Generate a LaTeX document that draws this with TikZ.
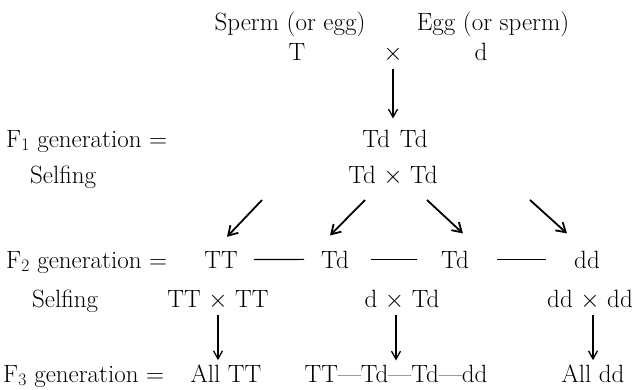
\documentclass[tikz,border=0pt]{standalone}
\usepackage{fontspec}
\usetikzlibrary{arrows.meta}
\begin{document}
\begin{tikzpicture}[x=1pt,y=-1pt,
  lbl/.style={inner sep=0pt, anchor=base, font=\fontsize{25}{29}\selectfont},
  lft/.style={lbl, anchor=base west},
  arr/.style={line width=1.3pt, -{Straight Barb[length=8pt,width=9pt]}},
  darr/.style={line width=1.8pt, -{Straight Barb[length=9pt,width=11pt]}},
  link/.style={line width=1.1pt}]
\useasboundingbox (0,0) rectangle (635,389);
% top rows
\node[lbl] (sperm) at (290,30) {Sperm (or egg)};
\node[lbl] (egg) at (493,30) {Egg (or sperm)};
\node[lbl] (T) at (297,60) {T};
\node[lbl] (cross) at (393,60) {$\times$};
\node[lbl] (d) at (481,60) {d};
% F1
\node[lft] (f1) at (6,147) {F\textsubscript{1} generation =};
\node[lbl] (tdtd) at (395,147) {Td\hspace{0.4em}Td};
\node[lft] (self1) at (30,183) {Selfing};
\node[lbl] (tdxtd) at (393,183) {Td $\times$ Td};
% F2
\node[lft] (f2) at (6,268) {F\textsubscript{2} generation =};
\node[lbl] (tt) at (221,268) {TT};
\node[lbl] (td1) at (335,268) {Td};
\node[lbl] (td2) at (455,268) {Td};
\node[lbl] (dd) at (587,268) {dd};
\node[lft] (self2) at (32,307) {Selfing};
\node[lbl] (ttxtt) at (218,307) {TT $\times$ TT};
\node[lbl] (dxtd) at (402,307) {d $\times$ Td};
\node[lbl] (ddxdd) at (590,307) {dd $\times$ dd};
% F3
\node[lft] (f3) at (3,382) {F\textsubscript{3} generation =};
\node[lbl] (alltt) at (226,382) {All TT};
\node[lbl] (mix) at (396,382) {TT—Td—Td—dd};
\node[lbl] (alldd) at (593,382) {All dd};
% arrows
\draw[arr, shorten <=7pt, shorten >=11pt] (cross.south) -- (cross.south |- tdtd.north);
\coordinate (s1) at ([shift={(-131,17)}]tdxtd.base);
\coordinate (s2) at ([shift={(-28,17)}]tdxtd.base);
\coordinate (s3) at ([shift={(34,17)}]tdxtd.base);
\coordinate (s4) at ([shift={(137,17)}]tdxtd.base);
\draw[darr] (s1) -- ([shift={(6,-14)}]tt.north);
\draw[darr] (s2) -- ([shift={(-5,-15)}]td1.north);
\draw[darr] (s3) -- ([shift={(8,-17)}]td2.north);
\draw[darr] (s4) -- ([shift={(-20,-17)}]dd.north);
\draw[link, shorten <=16pt, shorten >=17pt] (tt.east) -- (td1.west);
\draw[link, shorten <=22pt, shorten >=24pt] (td1.east) -- (td2.west);
\draw[link, shorten <=28pt, shorten >=28pt] (td2.east) -- (dd.west);
\draw[arr, shorten <=6pt, shorten >=4pt] (ttxtt.south) -- (ttxtt.south |- alltt.north);
\draw[arr, shorten <=6pt, shorten >=4pt] (mix.north |- dxtd.south) -- (mix.north);
\draw[arr, shorten <=6pt, shorten >=4pt] (alldd.north |- ddxdd.south) -- (alldd.north);
\end{tikzpicture}
\end{document}
